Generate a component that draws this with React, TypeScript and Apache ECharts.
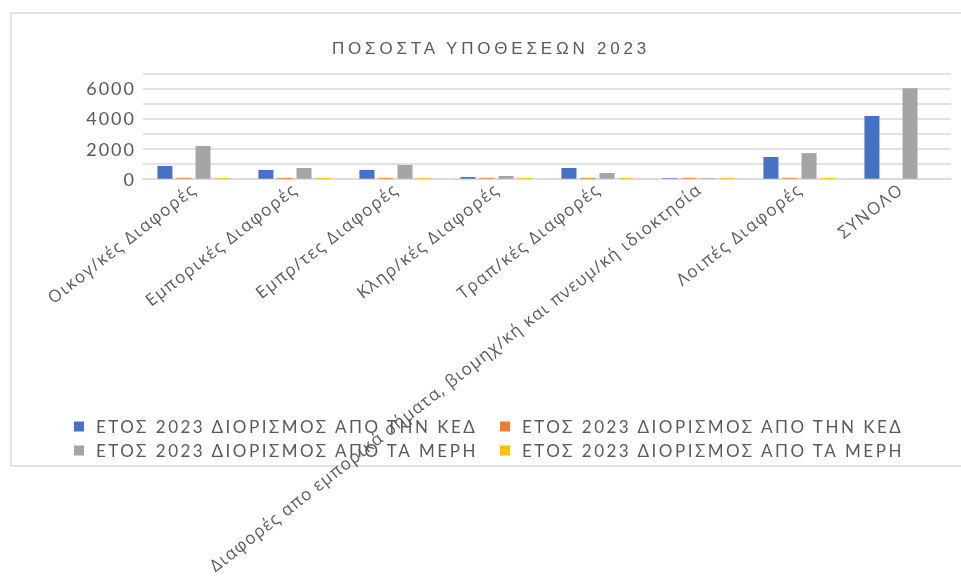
import React, { useEffect, useRef } from "react";
import * as echarts from "echarts";

const titleText = "ΠΟΣΟΣΤΑ ΥΠΟΘΕΣΕΩΝ 2023";

const categories = [
  "Οικογ/κές Διαφορές",
  "Εμπορικές Διαφορές",
  "Εμπρ/τες Διαφορές",
  "Κληρ/κές Διαφορές",
  "Τραπ/κές Διαφορές",
  "Διαφορές απο εμπορικά σήματα, βιομηχ/κή και πνευμ/κή ιδιοκτησία",
  "Λοιπές Διαφορές",
  "ΣΥΝΟΛΟ",
];

const seriesNames = [
  "ΕΤΟΣ 2023 ΔΙΟΡΙΣΜΟΣ ΑΠΟ ΤΗΝ ΚΕΔ",
  "ΕΤΟΣ 2023 ΔΙΟΡΙΣΜΟΣ ΑΠΟ ΤΗΝ ΚΕΔ ",
  "ΕΤΟΣ 2023 ΔΙΟΡΙΣΜΟΣ ΑΠΟ ΤΑ ΜΕΡΗ",
  "ΕΤΟΣ 2023 ΔΙΟΡΙΣΜΟΣ ΑΠΟ ΤΑ ΜΕΡΗ ",
];

const kedCount = [845, 580, 580, 110, 710, 40, 1440, 4170];
const kedPercent = [60, 60, 60, 60, 60, 60, 60, null];
const partiesCount = [2170, 710, 910, 180, 380, 40, 1700, 6010];
const partiesPercent = [60, 60, 60, 60, 60, 60, 60, null];

const yTicks = [0, 2000, 4000, 6000];

const colors = ["#4472C4", "#ED7D31", "#A5A5A5", "#FFC000"];

export default function App() {
  const ref = useRef<HTMLDivElement>(null);
  useEffect(() => {
    if (!ref.current) return;
    const el = ref.current;
    const chart = echarts.init(el, undefined, { renderer: "svg" });
    const values = [kedCount, kedPercent, partiesCount, partiesPercent];
    const legendText = {
      fontFamily: "Lato",
      fontSize: 17,
      color: "#595959",
      padding: [0, 0, 0, 7],
    };
    const legendPos = [
      [74, 418],
      [500, 418],
      [74, 442],
      [500, 442],
    ];
    chart.setOption({
      animation: false,
      color: colors,
      title: {
        text: titleText,
        left: 327,
        top: 35,
        textStyle: {
          fontFamily: "Liberation Sans",
          fontSize: 17,
          fontWeight: "normal",
          color: "#595959",
        },
      },
      graphic: [
        {
          type: "rect",
          shape: { x: 11, y: 13, width: 1000, height: 453 },
          style: { fill: "none", stroke: "#d9d9d9", lineWidth: 1.5 },
          z: -10,
        },
      ],
      legend: seriesNames.map((name, i) => ({
        data: [name],
        left: legendPos[i][0],
        top: legendPos[i][1],
        padding: 0,
        itemWidth: 10,
        itemHeight: 10,
        icon: "rect",
        textStyle: legendText,
      })),
      grid: {
        left: 143,
        right: 10,
        top: 73.3,
        bottom: 583 - 178.7,
        containLabel: false,
      },
      xAxis: {
        type: "category",
        data: categories,
        axisLine: { lineStyle: { color: "#d9d9d9", width: 1.5 } },
        axisTick: { show: false },
        axisLabel: {
          rotate: 38,
          interval: 0,
          margin: 8,
          fontFamily: "Open Sans",
          fontSize: 17,
          color: "#595959",
        },
      },
      yAxis: {
        type: "value",
        min: 0,
        max: 7000,
        interval: 1000,
        axisLine: { show: false },
        axisTick: { show: false },
        splitLine: { lineStyle: { color: "#d9d9d9", width: 1.5 } },
        axisLabel: {
          margin: 7,
          fontFamily: "Lato",
          fontSize: 18,
          color: "#595959",
          formatter: (v: number) => (yTicks.includes(v) ? String(v) : ""),
        },
      },
      series: seriesNames.map((name, i) => ({
        name,
        type: "bar",
        data: values[i],
        barWidth: 15,
        barGap: "27%",
        itemStyle: { color: colors[i] },
      })),
    });
    const applySpacing = () => {
      el.querySelectorAll("text").forEach((t) => {
        const s = (t.textContent || "").trim();
        let ls = 0;
        if (s === titleText) ls = 3.8;
        else if (s === categories[5]) ls = 1.15;
        else if (categories.includes(s)) ls = 1.4;
        else if (seriesNames.some((n) => n.trim() === s)) ls = 2.5;
        else if (yTicks.map(String).includes(s)) ls = 2;
        if (ls) t.setAttribute("letter-spacing", String(ls));
      });
    };
    applySpacing();
    chart.on("finished", applySpacing);
    return () => chart.dispose();
  }, []);
  return (
    <div
      ref={ref}
      style={{ position: "fixed", left: 0, top: 0, width: 961, height: 583 }}
    />
  );
}
